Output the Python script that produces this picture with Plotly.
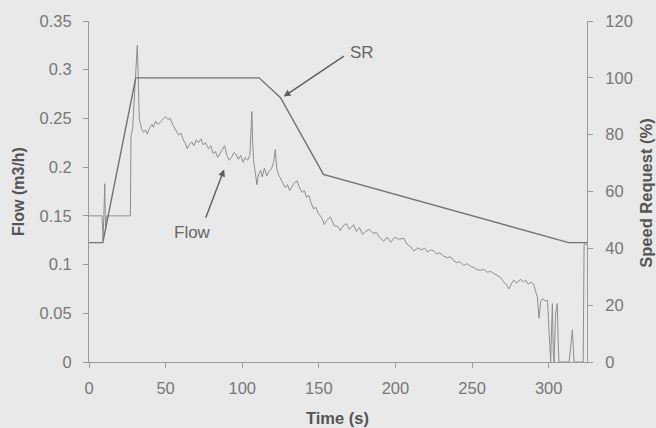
import plotly.graph_objects as go

# Pump flow measured during the speed-request profile
flow_t = [0, 8.5, 9.2, 10.3, 10.8, 11.3, 27, 27.4, 28.5, 30, 31.5, 32, 32.8, 34.2,
          35.5, 37, 38, 39.5, 41, 42, 43.5, 45, 46.5, 48, 50, 51.5, 53, 54.5, 56, 57.5,
          58.5, 60, 61.5, 63, 64, 65.5, 67, 68.5, 70, 71.5, 73, 74.5, 76, 78, 79.5, 81,
          82.5, 84, 85.5, 87, 88.5, 90, 91.5, 93, 94.5, 96, 97.5, 99, 100.5, 102, 103.5,
          105, 105.8, 106.3, 106.8, 107.5, 108.5, 109.6, 110.5, 112, 113, 114.5, 116,
          117.5, 119, 120.5, 121.6, 122.5, 123.5, 125, 126.5, 128, 129.5, 131, 132.5,
          134, 135.8, 137, 139, 140.5, 142, 143.5, 145, 146.6, 148, 149.5, 151, 152.5,
          153.5, 155, 157.5, 160, 162.5, 164, 166, 168, 170, 172.7, 174.5, 176.5, 178.5,
          180.5, 183, 185.5, 187.5, 189.5, 192.4, 194.5, 197, 199.5, 202, 205.4, 207.5,
          210, 212, 214.5, 217, 219, 221, 223, 225, 227, 229, 231, 233.8, 236, 238,
          240, 242, 244.6, 247, 249, 251.2, 253, 255.6, 258, 259.9, 262, 264, 266.5,
          268.5, 270.8, 272.5, 274.1, 275.5, 277.3, 279, 281.7, 283.5, 285, 286.5, 288.5,
          290.4, 291.5, 292.6, 293.7, 294.8, 296, 297.5, 299.2, 300.3, 301.3, 302,
          302.4, 303, 303.5, 304.5, 305.6, 306.2, 306.7, 313.3, 314.5, 315.5, 316.5,
          322.5, 323.1, 325]
flow_val = [0.150, 0.150, 0.125, 0.183, 0.135, 0.150, 0.150, 0.232, 0.240, 0.290, 0.325, 0.300, 0.250, 0.240,
            0.236, 0.238, 0.234, 0.240, 0.244, 0.241, 0.247, 0.244, 0.246, 0.249, 0.252, 0.249, 0.250, 0.244, 0.240, 0.236,
            0.233, 0.235, 0.228, 0.224, 0.219, 0.223, 0.226, 0.222, 0.228, 0.225, 0.229, 0.223, 0.225, 0.219, 0.222, 0.214,
            0.216, 0.210, 0.214, 0.218, 0.222, 0.212, 0.207, 0.210, 0.215, 0.213, 0.208, 0.212, 0.205, 0.210, 0.207,
            0.212, 0.240, 0.257, 0.225, 0.205, 0.195, 0.182, 0.192, 0.197, 0.190, 0.199, 0.191,
            0.196, 0.198, 0.205, 0.218, 0.199, 0.193, 0.188, 0.183, 0.179, 0.182, 0.176, 0.180,
            0.184, 0.186, 0.180, 0.174, 0.176, 0.169, 0.171, 0.163, 0.157, 0.159, 0.153, 0.150, 0.146,
            0.141, 0.145, 0.149, 0.140, 0.139, 0.135, 0.140, 0.142, 0.136, 0.141, 0.134, 0.138, 0.131,
            0.134, 0.136, 0.132, 0.133, 0.128, 0.124, 0.128, 0.123, 0.128, 0.126, 0.127, 0.121,
            0.118, 0.114, 0.117, 0.115, 0.117, 0.113, 0.115, 0.114, 0.111, 0.112, 0.109, 0.107, 0.108, 0.104,
            0.102, 0.103, 0.099, 0.101, 0.098, 0.097, 0.095, 0.094, 0.095, 0.092, 0.093, 0.091, 0.089,
            0.087, 0.082, 0.079, 0.075, 0.080, 0.084, 0.081, 0.085, 0.082, 0.084, 0.080, 0.082,
            0.079, 0.072, 0.067, 0.045, 0.062, 0.065, 0.063, 0.063, 0.020, 0.000, 0.040,
            0.060, 0.010, 0.000, 0.050, 0.060, 0.020, 0.000, 0.000, 0.020, 0.033, 0.000,
            0.000, 0.121, 0.121]

# Speed request (%) profile
sr_t = [0, 9, 30.5, 111, 125, 153, 313, 325]
sr_val = [42, 42, 100, 100, 93, 66, 42, 42]

x_ticks = [0, 50, 100, 150, 200, 250, 300]
flow_ticks = [0, 0.05, 0.1, 0.15, 0.2, 0.25, 0.3, 0.35]
flow_tick_text = ["0", "0.05", "0.1", "0.15", "0.2", "0.25", "0.3", "0.35"]
sr_ticks = [0, 20, 40, 60, 80, 100, 120]

FONT = "Liberation Sans, Arial, sans-serif"
BG = "#e9e9e9"
AX = "#9a9a9a"
TXT = "#777777"

fig = go.Figure()
fig.add_trace(go.Scatter(x=flow_t, y=flow_val, mode="lines", name="Flow",
                         line=dict(color="#8e8e8e", width=1.0), yaxis="y"))
fig.add_trace(go.Scatter(x=sr_t, y=sr_val, mode="lines", name="SR",
                         line=dict(color="#727272", width=1.4), yaxis="y2"))

axis_common = dict(showgrid=False, zeroline=False, showline=True, linecolor=AX,
                   linewidth=1, ticks="outside", ticklen=5, tickcolor=AX,
                   tickfont=dict(family=FONT, size=16.5, color=TXT))

fig.update_layout(
    width=656, height=428,
    margin=dict(l=89, r=69, t=19, b=66),
    paper_bgcolor=BG, plot_bgcolor=BG,
    showlegend=False,
    xaxis=dict(range=[0, 325], tickvals=x_ticks, ticklabelstandoff=6, **axis_common),
    yaxis=dict(range=[0, 0.35], tickvals=flow_ticks, ticktext=flow_tick_text,
               ticklabelstandoff=8, **axis_common),
    yaxis2=dict(range=[0, 120], tickvals=sr_ticks, overlaying="y", side="right",
                ticklabelstandoff=9, **axis_common),
)

# Axis titles
fig.add_annotation(text="<b>Flow (m3/h)</b>", xref="paper", yref="paper",
                   x=-0.143, y=0.501, xanchor="center", yanchor="middle",
                   textangle=-90, showarrow=False,
                   font=dict(family=FONT, size=16, color="#555555"))
fig.add_annotation(text="<b>Speed Request (%)</b>", xref="paper", yref="paper",
                   x=1.117, y=0.494, xanchor="center", yanchor="middle",
                   textangle=-90, showarrow=False,
                   font=dict(family=FONT, size=16.5, color="#555555"))
fig.add_annotation(text="<b>Time (s)</b>", xref="paper", yref="paper",
                   x=0.498, y=-0.163, xanchor="center", yanchor="middle",
                   showarrow=False, font=dict(family=FONT, size=16.5, color="#555555"))

# Series labels with pointer arrows
fig.add_annotation(text="SR", x=178, y=0.318, xref="x", yref="y", showarrow=False,
                   font=dict(family=FONT, size=17, color="#666666"))
fig.add_annotation(text="", x=127, y=0.2724, ax=167.3, ay=0.315, xref="x", yref="y",
                   axref="x", ayref="y", showarrow=True, arrowhead=2, arrowsize=1,
                   arrowwidth=1.4, arrowcolor="#5e5e5e")
fig.add_annotation(text="Flow", x=67.8, y=0.133, xref="x", yref="y", showarrow=False,
                   font=dict(family=FONT, size=17, color="#666666"))
fig.add_annotation(text="", x=88.2, y=0.1977, ax=75.8, ay=0.1466, xref="x", yref="y",
                   axref="x", ayref="y", showarrow=True, arrowhead=2, arrowsize=1,
                   arrowwidth=1.4, arrowcolor="#5e5e5e")

fig.write_html("out.html")
